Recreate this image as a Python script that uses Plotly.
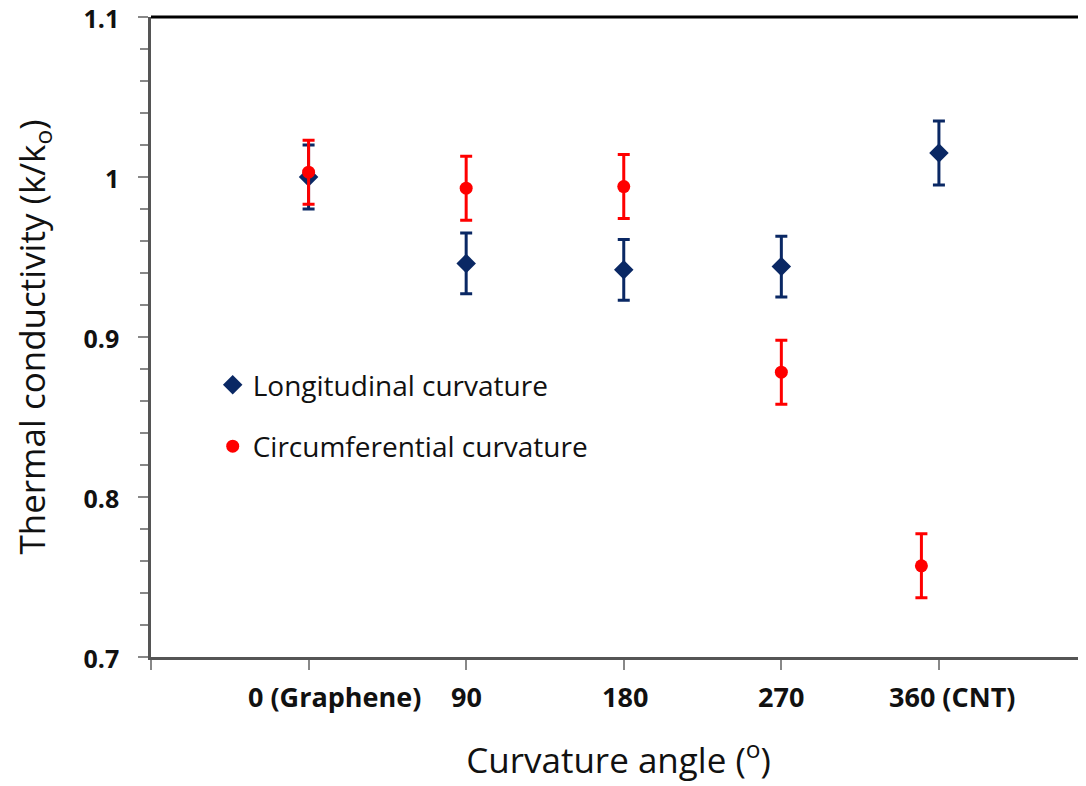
import plotly.graph_objects as go

# ---- data ----
long_x = [0, 90, 180, 270, 360]
long_y = [1.000, 0.946, 0.942, 0.944, 1.015]
long_err = [0.02, 0.019, 0.019, 0.019, 0.02]

circ_x = [0, 90, 180, 270, 350]
circ_y = [1.003, 0.993, 0.994, 0.878, 0.757]
circ_err = [0.02, 0.02, 0.02, 0.02, 0.02]

x_tick_vals = [0, 90, 180, 270, 360]
x_tick_text = ["0 (Graphene)", "90", "180", "270", "360 (CNT)"]
y_tick_vals = [0.7, 0.8, 0.9, 1.0, 1.1]
y_tick_text = ["0.7", "0.8", "0.9", "1", "1.1"]

FONT = "Open Sans"
NAVY = "#0A2864"
RED = "#FF0000"
TXT = "#111111"

fig = go.Figure()
fig.add_trace(go.Scatter(
    x=long_x, y=long_y, mode="markers", name="Longitudinal curvature",
    legendgroup="a",
    marker=dict(symbol="diamond", size=15, color=NAVY),
    error_y=dict(type="data", array=long_err, visible=True, color=NAVY,
                 thickness=3, width=6),
))
fig.add_trace(go.Scatter(
    x=circ_x, y=circ_y, mode="markers", name="Circumferential curvature",
    legendgroup="b",
    marker=dict(symbol="circle", size=13, color=RED),
    error_y=dict(type="data", array=circ_err, visible=True, color=RED,
                 thickness=3, width=6),
))

# x tick labels as annotations (slightly offset like the original)
label_shift = [26, 0, 1, 0, 13]
for v, t, s in zip(x_tick_vals, x_tick_text, label_shift):
    fig.add_annotation(x=v, y=0, xref="x", yref="paper", text=t,
                       showarrow=False, yanchor="top", yshift=-19, xshift=s,
                       font=dict(family=FONT, size=27, color=TXT, weight="bold"))

# top border line of the plot area
fig.add_shape(type="line", xref="paper", yref="paper", x0=0, x1=1, y0=1, y1=1,
              line=dict(color="black", width=3), layer="above")

fig.update_layout(
    width=1086, height=786,
    margin=dict(l=143, r=8, t=9, b=137),
    paper_bgcolor="white", plot_bgcolor="white",
    font=dict(family=FONT, color=TXT),
    showlegend=True,
    legend=dict(x=0.066, y=0.464, xanchor="left", yanchor="top",
                bgcolor="rgba(0,0,0,0)", font=dict(size=28, family=FONT, color=TXT),
                traceorder="grouped", tracegroupgap=22, itemwidth=30),
    xaxis=dict(
        range=[-90, 444], showgrid=False, zeroline=False, automargin=False,
        showline=True, linecolor="#555555", linewidth=2.5,
        tickvals=[-90] + x_tick_vals, ticks="outside", ticklen=10,
        tickcolor="#888888", tickwidth=1.5, showticklabels=False,
        title=dict(text="Curvature angle (<sup>o</sup>)", standoff=80,
                   font=dict(size=35, family=FONT, color=TXT)),
    ),
    yaxis=dict(
        range=[0.7, 1.1], showgrid=False, zeroline=False, automargin=False,
        showline=True, linecolor="#555555", linewidth=2.5,
        tickvals=y_tick_vals, ticktext=y_tick_text,
        ticks="outside", ticklen=10, tickcolor="#888888", tickwidth=1.5,
        tickfont=dict(size=25, family=FONT, color=TXT, weight="bold"),
        ticklabelstandoff=14, ticklabeloverflow="allow", ticklabelshift=2,
        minor=dict(dtick=0.02, ticks="outside", ticklen=8, tickcolor="#888888", tickwidth=1.5),
        title=dict(text="Thermal conductivity (k/k<sub>o</sub>)", standoff=30,
                   font=dict(size=35, family=FONT, color=TXT)),
    ),
)

fig.write_html("out.html")
